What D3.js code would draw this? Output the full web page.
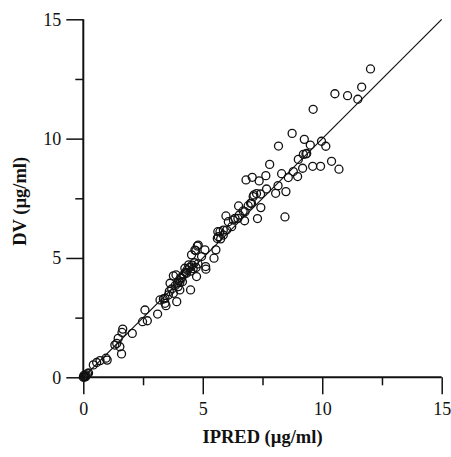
<!DOCTYPE html>
<html>
<head>
<meta charset="utf-8">
<script src="https://d3js.org/d3.v7.min.js"></script>
<style>
  body { margin: 0; background: #fff; }
  text { font-family: "Liberation Serif", "Times New Roman", serif; fill: #111; }
</style>
</head>
<body>
<svg id="chart"></svg>
<script>
// observed vs individual predicted concentration
var ipred = [0, 0.02, 0.05, 0.08, 0.12, 0.18, 0.22, 0.03, 0.1,
  0.42, 0.56, 0.70, 0.95, 1.00, 1.32, 1.40, 1.46, 1.53, 1.60, 1.62, 1.65, 2.05,
  2.48, 2.58, 2.68, 3.11, 3.21, 3.35, 3.42, 3.46, 3.42, 3.56, 3.60, 3.63, 3.70,
  3.77, 3.77, 3.88, 3.85, 3.91, 3.95, 3.97, 4.00, 4.04, 4.04, 4.08, 4.11, 4.15,
  4.20, 4.25, 4.28, 4.32, 4.35, 4.41, 4.45, 4.49, 4.50, 4.53, 4.55, 4.60, 4.65,
  4.71, 4.72, 4.74, 4.77, 4.80, 4.67, 4.81, 4.95, 5.09, 5.12, 5.13, 5.47, 5.55,
  5.61, 5.63, 5.65, 5.72, 5.75, 5.86, 5.86, 5.97, 6.00, 6.07, 6.21, 6.28, 6.35,
  6.47, 6.50, 6.53, 6.69, 6.75, 6.77, 6.81, 6.90, 7.00, 7.04, 7.07, 7.11, 7.14,
  7.25, 7.29, 7.36, 7.42, 7.43, 7.64, 7.67, 7.80, 8.05, 8.15, 8.17, 8.30, 8.44,
  8.48, 8.58, 8.74, 8.79, 8.97, 9.00, 9.18, 9.21, 9.32, 9.35, 9.25, 9.50, 9.60,
  9.62, 9.93, 9.97, 10.15, 10.39, 10.70, 10.53, 11.06, 11.49, 11.65, 12.02];
var dv = [0, 0.03, 0.01, 0.06, 0.10, 0.15, 0.18, 0.08, 0.02,
  0.52, 0.62, 0.70, 0.80, 0.72, 1.35, 1.42, 1.63, 1.28, 0.98, 1.88, 2.02, 1.84,
  2.33, 2.82, 2.37, 2.65, 3.24, 3.28, 3.10, 3.00, 3.31, 3.45, 3.60, 3.94, 3.70,
  3.52, 4.25, 4.29, 3.85, 3.17, 3.95, 3.80, 4.05, 3.97, 3.66, 4.18, 4.15, 4.00,
  4.30, 4.57, 4.40, 4.36, 4.50, 4.71, 4.60, 3.66, 4.45, 5.13, 4.70, 4.55, 4.80,
  5.31, 4.60, 4.22, 5.50, 4.75, 5.33, 5.54, 5.06, 5.34, 4.64, 4.53, 4.99, 5.34,
  5.82, 6.10, 5.89, 6.10, 5.80, 5.96, 6.17, 6.76, 6.17, 6.52, 6.31, 6.59, 6.66,
  6.66, 7.18, 6.80, 6.97, 6.56, 6.94, 8.27, 7.19, 7.29, 7.29, 8.38, 7.57, 7.64,
  7.70, 6.65, 8.23, 7.68, 7.11, 8.45, 7.89, 8.92, 7.71, 8.03, 9.69, 8.53, 6.72,
  7.78, 8.37, 10.22, 8.62, 8.41, 9.13, 8.76, 9.34, 9.36, 9.38, 9.97, 9.73, 8.84,
  11.23, 8.84, 9.89, 9.68, 9.05, 8.72, 11.88, 11.80, 11.65, 12.16, 12.92];

var majorTicks = [0, 5, 10, 15];
var minorTicks = [2.5, 7.5, 12.5];
var xTitle = "IPRED (µg/ml)";
var yTitle = "DV (µg/ml)";

var width = 451, height = 457;
var mLeft = 83.3, mRight = 441.7, mTop = 19.3, mBottom = 377.3;

var svg = d3.select("#chart")
  .attr("width", width)
  .attr("height", height);

var x = d3.scaleLinear().domain([0, 15]).range([mLeft, mRight]);
var y = d3.scaleLinear().domain([0, 15]).range([mBottom, mTop]);

// identity line
svg.append("line")
  .attr("x1", x(0)).attr("y1", y(0))
  .attr("x2", x(15)).attr("y2", y(15))
  .attr("stroke", "#111")
  .attr("stroke-width", 1.2);

// points
svg.append("g").selectAll("circle")
  .data(d3.range(ipred.length))
  .join("circle")
  .attr("cx", function(i) { return x(ipred[i]); })
  .attr("cy", function(i) { return y(dv[i]); })
  .attr("r", 4)
  .attr("fill", "none")
  .attr("stroke", "#111")
  .attr("stroke-width", 1.3);

// axes
var xMajor = svg.append("g")
  .attr("transform", "translate(0," + mBottom + ")")
  .call(d3.axisBottom(x).tickValues(majorTicks).tickSize(17).tickPadding(8).tickSizeOuter(0));
var xMinor = svg.append("g")
  .attr("transform", "translate(0," + mBottom + ")")
  .call(d3.axisBottom(x).tickValues(minorTicks).tickSize(8).tickFormat(""));
var yMajor = svg.append("g")
  .attr("transform", "translate(" + mLeft + ",0)")
  .call(d3.axisLeft(y).tickValues(majorTicks).tickSize(17).tickPadding(5).tickSizeOuter(0));
var yMinor = svg.append("g")
  .attr("transform", "translate(" + mLeft + ",0)")
  .call(d3.axisLeft(y).tickValues(minorTicks).tickSize(8).tickFormat(""));

[xMajor, xMinor, yMajor, yMinor].forEach(function(g) {
  g.select(".domain").remove();
  g.selectAll("line").attr("stroke", "#111").attr("stroke-width", 1.5);
  g.selectAll("text")
    .attr("fill", "#111")
    .style("font-family", '"Liberation Serif", "Times New Roman", serif')
    .style("font-size", "18px");
});

// axis lines
svg.append("line")
  .attr("x1", x(0)).attr("x2", x(15))
  .attr("y1", mBottom).attr("y2", mBottom)
  .attr("stroke", "#111").attr("stroke-width", 2);
svg.append("line")
  .attr("x1", mLeft).attr("x2", mLeft)
  .attr("y1", y(0)).attr("y2", y(15))
  .attr("stroke", "#111").attr("stroke-width", 2);

// titles
svg.append("text")
  .attr("x", (mLeft + mRight) / 2)
  .attr("y", 443)
  .attr("text-anchor", "middle")
  .style("font-size", "18.5px")
  .style("font-weight", "bold")
  .text(xTitle);

svg.append("text")
  .attr("transform", "translate(26," + ((mTop + mBottom) / 2 + 3) + ") rotate(-90)")
  .attr("text-anchor", "middle")
  .style("font-size", "18.5px")
  .style("font-weight", "bold")
  .text(yTitle);
</script>
</body>
</html>
